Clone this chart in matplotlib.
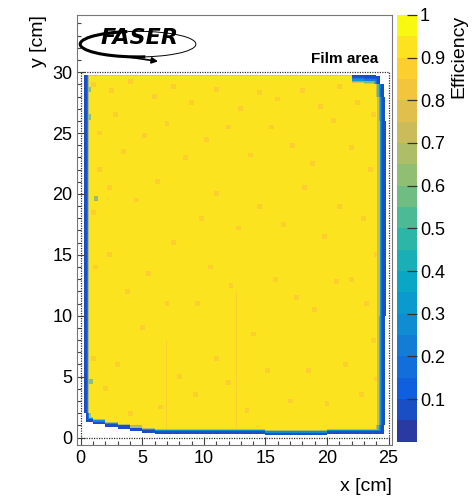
import numpy as np
import matplotlib.pyplot as plt
from matplotlib.colors import ListedColormap, BoundaryNorm, LinearSegmentedColormap
from matplotlib.patches import Rectangle, Arc
from matplotlib.ticker import MultipleLocator

plt.rcParams['font.family'] = ['Liberation Sans', 'DejaVu Sans']

# film boundary, read per 1 cm strip [cm]
left_edge = [0.45, 0.4, 0.35, 0.3, 0.3, 0.3, 0.3, 0.3, 0.3, 0.3,
             0.3, 0.3, 0.3, 0.3, 0.3, 0.3, 0.3, 0.3, 0.3, 0.3,
             0.3, 0.3, 0.3, 0.3, 0.3, 0.3, 0.3, 0.3, 0.3, 0.35]      # y = 0..30
right_edge = [24.6, 24.7, 24.7, 24.7, 24.7, 24.7, 24.7, 24.7, 24.7, 24.7,
              24.75, 24.75, 24.75, 24.75, 24.75, 24.75, 24.75, 24.75, 24.75, 24.75,
              24.75, 24.75, 24.75, 24.75, 24.75, 24.75, 24.7, 24.7, 24.6, 24.3]  # y = 0..30
bottom_edge = [1.3, 1.1, 0.9, 0.75, 0.55, 0.4, 0.35, 0.3, 0.3, 0.3,
               0.3, 0.3, 0.3, 0.3, 0.3, 0.25, 0.25, 0.25, 0.25, 0.25,
               0.3, 0.3, 0.3, 0.3, 0.35]                                # x = 0..25
top_edge = [29.8, 29.8, 29.8, 29.8, 29.8, 29.8, 29.8, 29.8, 29.8, 29.8,
            29.8, 29.8, 29.8, 29.8, 29.8, 29.8, 29.8, 29.8, 29.8, 29.8,
            29.8, 29.8, 29.8, 29.75, 29.7]                              # x = 0..25

# efficiency going inward from each boundary (one value per 1 mm bin)
left_profile = [0.06, 0.08, 0.2, 0.65]
right_profile = [0.06, 0.09, 0.18, 0.32, 0.5, 0.72]
bottom_profile = [0.06, 0.09, 0.25, 0.65]
top_profile_plain = [0.82]
top_profile_corner = [0.06, 0.08, 0.12, 0.2, 0.35, 0.55, 0.75]
corner_cols = [22, 23, 24]          # 1 cm columns where the top edge is blue

core_eff = 0.925
# lower-efficiency spots inside the film [cm]
spot_x = [1.0, 2.5, 4.0, 6.0, 7.5, 9.0, 11.0, 13.0, 14.5, 16.0, 18.0, 19.5, 21.0, 22.5, 23.8,
          1.5, 2.8, 3.5, 5.2, 7.0, 8.5, 10.2, 12.0, 13.8, 15.5, 17.2, 18.8, 20.5, 22.0, 23.5,
          1.0, 2.3, 1.5, 4.5, 6.2, 7.5, 9.8, 11.0, 12.8, 14.5, 16.5, 18.2, 19.8, 21.0, 23.0, 24.0,
          1.2, 2.3, 3.8, 5.5, 7.0, 9.5, 10.5, 12.2, 14.0, 15.8, 17.5, 19.0, 20.8, 22.0, 23.8, 23.2,
          1.0, 2.0, 3.0, 4.0, 5.0, 6.5, 8.0, 9.3, 11.0, 12.0, 13.5, 15.2, 17.0, 18.5, 20.0, 21.5,
          22.8, 24.0]
spot_y = [29.0, 28.5, 29.2, 28.0, 28.8, 27.5, 28.6, 27.0, 28.3, 27.8, 28.5, 27.2, 28.8, 27.5, 26.5,
          25.0, 26.5, 23.5, 24.8, 25.8, 23.0, 24.5, 25.5, 23.2, 25.5, 24.0, 22.5, 26.0, 23.8, 22.0,
          18.5, 20.5, 22.0, 19.5, 21.0, 16.0, 18.0, 20.0, 17.2, 19.0, 17.5, 20.5, 16.5, 19.0, 18.0, 15.0,
          14.0, 15.0, 12.0, 13.5, 11.0, 11.0, 14.0, 12.5, 8.5, 13.0, 11.5, 10.5, 12.8, 13.0, 8.0, 11.0,
          6.5, 4.0, 6.0, 2.0, 9.0, 2.5, 5.0, 3.5, 6.5, 4.5, 2.2, 5.5, 3.0, 5.5, 2.8, 6.0,
          3.5, 4.8]
spot_eff = 0.87
green_x = [0.7, 0.7, 1.3, 0.8]
green_y = [28.6, 26.4, 19.6, 4.6]
green_eff = 0.62
# faint vertical streaks [cm]
streak_x = [7.0, 12.7, 17.3, 20.6]
streak_y0 = [0.5, 0.5, 0.5, 0.5]
streak_y1 = [8.0, 12.0, 10.0, 6.0]
streak_eff = 0.88

bin_w = 0.1
xe = np.arange(0, 25 + bin_w / 2, bin_w)
ye = np.arange(0, 30 + bin_w / 2, bin_w)
xc = (xe[:-1] + xe[1:]) / 2
yc = (ye[:-1] + ye[1:]) / 2
XX, YY = np.meshgrid(xc, yc)
IX = np.clip(np.floor(XX).astype(int), 0, 24)
IY = np.clip(np.floor(YY).astype(int), 0, 29)

dl = np.floor((XX - np.array(left_edge)[IY]) / bin_w)
dr = np.floor((np.array(right_edge)[IY] - XX) / bin_w)
db = np.floor((YY - np.array(bottom_edge)[IX]) / bin_w)
dt = np.floor((np.array(top_edge)[IX] - YY) / bin_w)

eff = np.full(XX.shape, core_eff)
for sx, sy in zip(spot_x, spot_y):
    eff[(np.abs(XX - sx) < 0.2) & (np.abs(YY - sy) < 0.16)] = spot_eff
for sx, y0, y1 in zip(streak_x, streak_y0, streak_y1):
    eff[(np.abs(XX - sx) < 0.05) & (YY > y0) & (YY < y1)] = streak_eff
for sx, sy in zip(green_x, green_y):
    eff[(np.abs(XX - sx) < 0.15) & (np.abs(YY - sy) < 0.25)] = green_eff
for d, prof in [(dl, left_profile), (dr, right_profile), (db, bottom_profile)]:
    for k, v in enumerate(prof):
        eff[d == k] = np.minimum(eff[d == k], v)
in_corner = np.isin(IX, corner_cols)
for k, v in enumerate(top_profile_plain):
    m = (dt == k) & ~in_corner
    eff[m] = np.minimum(eff[m], v)
for k, v in enumerate(top_profile_corner):
    m = (dt == k) & in_corner
    eff[m] = np.minimum(eff[m], v)
outside = (dl < 0) | (dr < 0) | (db < 0) | (dt < 0)
eff = np.ma.masked_where(outside, eff)

# ROOT kBird palette, 20 contour levels
stops = [0.0, 0.125, 0.25, 0.375, 0.5, 0.625, 0.75, 0.875, 1.0]
red = [0.2082, 0.0592, 0.0780, 0.0232, 0.1802, 0.5301, 0.8186, 0.9956, 0.9764]
green = [0.1664, 0.3599, 0.5041, 0.6419, 0.7178, 0.7492, 0.7328, 0.7862, 0.9832]
blue = [0.5293, 0.8684, 0.8385, 0.7914, 0.6425, 0.4662, 0.3499, 0.1968, 0.0539]
bird = LinearSegmentedColormap.from_list('bird', list(zip(stops, zip(red, green, blue))))
levels = np.linspace(0, 1, 21)
cmap = ListedColormap([bird((i + 0.8) / 20) for i in range(20)])
norm = BoundaryNorm(levels, cmap.N)

fig = plt.figure(figsize=(4.76, 4.97), dpi=100)
ax = fig.add_axes([0.162, 0.105, 0.662, 0.865])
mesh = ax.pcolormesh(xe, ye, eff, cmap=cmap, norm=norm, shading='flat', antialiased=False)
ax.add_patch(Rectangle((0, 0), 25, 30, fill=False, ls=(0, (1, 1)), lw=0.9, color='#333333', zorder=3))
ax.set_xlim(-0.3, 25.3)
ax.set_ylim(-0.6, 34.7)

ax.xaxis.set_major_locator(MultipleLocator(5))
ax.xaxis.set_minor_locator(MultipleLocator(1))
ax.yaxis.set_major_locator(MultipleLocator(5))
ax.yaxis.set_minor_locator(MultipleLocator(1))
ax.set_yticks([0, 5, 10, 15, 20, 25, 30])
ax.tick_params(which='both', direction='in', top=False, right=False, labelsize=13, color='#444444', width=0.8)
ax.tick_params(which='major', length=6)
ax.tick_params(which='minor', length=3)
for s in ax.spines.values():
    s.set_color('#777777')
    s.set_linewidth(0.8)
ax.set_xlabel('x [cm]', loc='right', fontsize=14, labelpad=8)
ax.set_ylabel('y [cm]', loc='top', fontsize=14, labelpad=4)

ax.text(24.2, 30.5, 'Film area', ha='right', va='bottom', fontsize=11, fontweight='bold')

# FASER logo
ax.add_patch(Arc((4.65, 32.3), 9.4, 2.1, theta1=130, theta2=300, lw=2.2, color='black'))
ax.add_patch(Arc((4.65, 32.3), 9.4, 2.1, theta1=-60, theta2=130, lw=0.7, color='black'))
ax.annotate('', xy=(6.5, 30.85), xytext=(3.5, 31.3),
            arrowprops=dict(arrowstyle='-|>', lw=1.2, color='black', mutation_scale=9))
ax.text(4.8, 32.8, 'FASER', ha='center', va='center', fontsize=16, fontweight='bold',
        fontstyle='italic', family=['DejaVu Sans'])

cax = fig.add_axes([0.834, 0.111, 0.042, 0.859])
cb = fig.colorbar(mesh, cax=cax, ticks=np.arange(0.1, 1.01, 0.1))
cb.set_ticklabels(['0.1', '0.2', '0.3', '0.4', '0.5', '0.6', '0.7', '0.8', '0.9', '1'])
cb.outline.set_visible(False)
cax.tick_params(direction='in', length=7, width=0.9, color='#333333', labelsize=13, pad=2)
cax.minorticks_off()
cb.set_label('Efficiency', loc='top', fontsize=14, labelpad=4)

fig.savefig('out.png', dpi=100)
